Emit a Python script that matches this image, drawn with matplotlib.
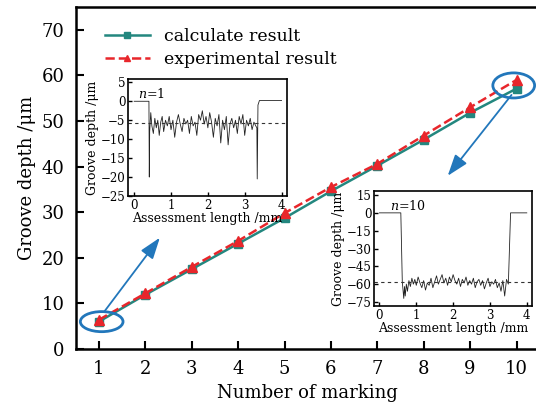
import matplotlib
matplotlib.use("Agg")
from matplotlib import pyplot as plt
from matplotlib.patches import Ellipse
import numpy as np

plt.rcParams['font.family'] = ['DejaVu Serif']
plt.rcParams['mathtext.fontset'] = 'dejavuserif'

# main series
marking = [1, 2, 3, 4, 5, 6, 7, 8, 9, 10]
calc = [6.0, 11.9, 17.5, 23.1, 28.7, 34.6, 40.2, 45.9, 51.8, 57.1]
expt = [6.4, 12.2, 18.0, 23.7, 29.8, 35.5, 40.6, 46.8, 53.0, 59.0]

# inset n=1 profile
x1 = [0.0, 0.40, 0.41, 0.42, 0.45, 0.48, 0.52, 0.56, 0.60, 0.64, 0.68, 0.72, 0.76, 0.80,
      0.85, 0.90, 0.95, 1.00, 1.05, 1.10, 1.15, 1.20, 1.25, 1.30, 1.35, 1.40, 1.45,
      1.50, 1.55, 1.60, 1.65, 1.70, 1.75, 1.80, 1.85, 1.90, 1.95, 2.00, 2.05, 2.10,
      2.15, 2.20, 2.25, 2.30, 2.35, 2.40, 2.45, 2.50, 2.55, 2.60, 2.65, 2.70, 2.75,
      2.80, 2.85, 2.90, 2.95, 3.00, 3.05, 3.10, 3.15, 3.20, 3.25, 3.30, 3.33, 3.34,
      3.36, 3.40, 4.00]
y1 = [0.0, 0.0, -20.0, -8.0, -3.0, -6.5, -8.5, -4.5, -7.0, -5.0, -9.0, -5.5, -4.0, -8.0,
      -5.0, -6.5, -4.0, -7.5, -5.0, -9.5, -5.5, -3.5, -6.0, -8.0, -4.5, -6.0, -5.0,
      -8.5, -4.0, -6.5, -5.5, -9.0, -3.5, -5.0, -2.5, -6.0, -4.0, -7.0, -3.0, -5.5,
      -9.5, -4.5, -6.5, -3.5, -11.0, -5.0, -7.5, -4.0, -11.5, -6.0, -4.5, -7.0, -5.0,
      -8.5, -4.0, -6.0, -3.5, -9.0, -5.0, -6.5, -4.5, -7.5, -5.5, -6.5, -7.0, -20.5,
      -1.0, 0.2, 0.2]
mean1 = -5.7

# inset n=10 profile
x10 = [0.0, 0.58, 0.62, 0.66, 0.68, 0.70, 0.73, 0.76, 0.80, 0.84, 0.88, 0.92, 0.96,
       1.00, 1.05, 1.10, 1.15, 1.20, 1.25, 1.30, 1.35, 1.40, 1.45, 1.50, 1.55, 1.60,
       1.65, 1.70, 1.75, 1.80, 1.85, 1.90, 1.95, 2.00, 2.05, 2.10, 2.15, 2.20, 2.25,
       2.30, 2.35, 2.40, 2.45, 2.50, 2.55, 2.60, 2.65, 2.70, 2.75, 2.80, 2.85, 2.90,
       2.95, 3.00, 3.05, 3.10, 3.15, 3.20, 3.25, 3.30, 3.35, 3.40, 3.45, 3.50, 3.56,
       4.00]
y10 = [0.0, 0.0, -58.0, -72.0, -62.0, -70.0, -60.0, -66.0, -57.0, -62.0, -55.0, -60.0,
       -56.0, -61.0, -54.0, -59.0, -63.0, -57.0, -65.0, -59.0, -61.0, -55.0, -63.0,
       -58.0, -53.0, -60.0, -56.0, -52.0, -59.0, -55.0, -61.0, -54.0, -58.0, -52.0,
       -57.0, -60.0, -55.0, -62.0, -56.0, -59.0, -54.0, -61.0, -57.0, -60.0, -55.0,
       -63.0, -58.0, -56.0, -61.0, -57.0, -64.0, -59.0, -55.0, -62.0, -58.0, -60.0,
       -56.0, -63.0, -59.0, -66.0, -57.0, -70.0, -56.0, -60.0, 0.0, 0.0]
mean10 = -58.0

teal = '#23877f'
red = '#e8262b'
blue = '#2277bb'

fig = plt.figure(figsize=(5.36, 4.12), dpi=100)
ax = fig.add_axes([75.7 / 536, 63 / 412, 464 / 536, 342 / 412])

ax.plot(marking, calc, '-', color=teal, lw=1.8, marker='s', ms=6, label='calculate result', zorder=3)
ax.plot(marking, expt, '--', color=red, lw=1.8, marker='^', ms=7, label='experimental result', zorder=4)

ax.set_xlim(0.5, 10.5)
ax.set_ylim(0, 75)
ax.set_xticks(marking)
ax.set_yticks(range(0, 71, 10))
ax.tick_params(direction='in', length=6, width=1.5, labelsize=13, pad=8)
for s in ax.spines.values():
    s.set_linewidth(1.8)
ax.set_xlabel('Number of marking', fontsize=13)
ax.set_ylabel('Groove depth /μm', fontsize=13)

leg = ax.legend(loc='upper left', bbox_to_anchor=(0.025, 0.99), frameon=False, fontsize=12.5,
                handlelength=2.6, borderaxespad=0.6, labelspacing=0.35, markerscale=0.7)

# circles and arrows
ax.add_patch(Ellipse((1.06, 6.0), 0.92, 4.4, fill=False, ec=blue, lw=2, zorder=5))
ax.add_patch(Ellipse((9.94, 57.8), 0.9, 5.5, fill=False, ec=blue, lw=2, zorder=5))
ax.annotate('', xy=(2.35, 24.9), xytext=(1.09, 7.85),
            arrowprops=dict(arrowstyle='-|>,head_length=1.3,head_width=0.45', color=blue, lw=1.3))
ax.annotate('', xy=(8.48, 37.5), xytext=(9.93, 56.2),
            arrowprops=dict(arrowstyle='-|>,head_length=1.3,head_width=0.45', color=blue, lw=1.3))

# inset n=1
ia = fig.add_axes([128.3 / 536, (412 - 196) / 412, 158.4 / 536, 116.7 / 412])
ia.plot(x1, y1, color='#222222', lw=0.6)
ia.axhline(mean1, color='#333333', lw=0.8, ls=(0, (3, 3)))
ia.set_xlim(-0.16, 4.14)
ia.set_ylim(-25, 5.8)
ia.set_xticks([0, 1, 2, 3, 4])
ia.set_yticks([5, 0, -5, -10, -15, -20, -25])
ia.tick_params(direction='in', length=3, width=1, labelsize=8.5, pad=2)
ia.set_xlabel('Assessment length /mm', fontsize=9, labelpad=0)
ia.set_ylabel('Groove depth /μm', fontsize=9, labelpad=1)
ia.text(0.06, 0.93, '$n$=1', transform=ia.transAxes, fontsize=9, va='top')
for s in ia.spines.values():
    s.set_linewidth(1.2)

# inset n=10
ib = fig.add_axes([374.3 / 536, (412 - 306) / 412, 158 / 536, 115 / 412])
ib.plot(x10, y10, color='#222222', lw=0.6)
ib.axhline(mean10, color='#333333', lw=0.8, ls=(0, (3, 3)))
ib.set_xlim(-0.14, 4.15)
ib.set_ylim(-78.4, 18.4)
ib.set_xticks([0, 1, 2, 3, 4])
ib.set_yticks([15, 0, -15, -30, -45, -60, -75])
ib.tick_params(direction='in', length=3, width=1, labelsize=8.5, pad=2)
ib.set_xlabel('Assessment length /mm', fontsize=9, labelpad=0)
ib.set_ylabel('Groove depth /μm', fontsize=9, labelpad=1)
ib.text(0.1, 0.93, '$n$=10', transform=ib.transAxes, fontsize=9, va='top')
for s in ib.spines.values():
    s.set_linewidth(1.2)

fig.savefig('out.png', dpi=100)
